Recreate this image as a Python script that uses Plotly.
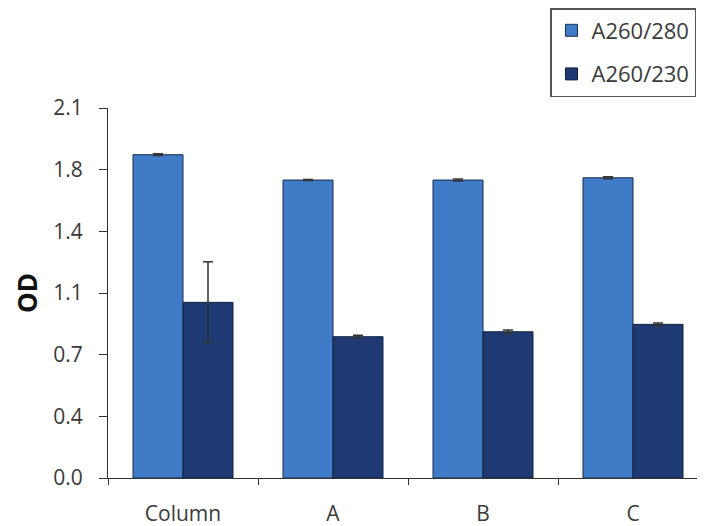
import plotly.graph_objects as go

categories = ["Column", "A", "B", "C"]
a260_280 = [1.835, 1.691, 1.691, 1.704]
a260_280_err = [0.005, 0.003, 0.006, 0.006]
a260_230 = [0.997, 0.802, 0.830, 0.872]
a260_230_err = [0.23, 0.008, 0.01, 0.008]
ytick_vals = [0.0, 0.35, 0.7, 1.05, 1.4, 1.75, 2.1]
ytick_text = ["0.0", "0.4", "0.7", "1.1", "1.4", "1.8", "2.1"]

font = "Open Sans"
# page body has an 8px margin, so the figure is shrunk by 8px and margins reduced
fig = go.Figure()
fig.add_trace(go.Bar(
    x=categories, y=a260_280, name="A260/280", legendgroup="g1",
    marker=dict(color="#3F7BC6", line=dict(color="#1c2c4c", width=1)),
    error_y=dict(type="data", array=a260_280_err, color="#333333", thickness=1.5, width=5),
))
fig.add_trace(go.Bar(
    x=categories, y=a260_230, name="A260/230", legendgroup="g2",
    marker=dict(color="#1F3A72", line=dict(color="#14233f", width=1)),
    error_y=dict(type="data", array=a260_230_err, color="#333333", thickness=1.5, width=5),
))

fig.update_layout(
    width=697, height=518,
    margin=dict(l=100, r=0, t=100, b=48, autoexpand=False),
    paper_bgcolor="white", plot_bgcolor="white",
    barmode="group", bargap=1/3, bargroupgap=0,
    font=dict(family=font, size=21, color="#3a3a3a"),
    showlegend=True,
    legend=dict(
        x=(550 - 108) / 597, y=(478 - 8) / 370, xanchor="left", yanchor="top",
        bordercolor="#555555", borderwidth=1.5, bgcolor="white",
        font=dict(family=font, size=22, color="#3a3a3a"),
        traceorder="grouped", tracegroupgap=12, itemwidth=30,
    ),
    xaxis=dict(
        range=[-0.5, 3.48], showline=True, linecolor="#333333", linewidth=1.2,
        ticks="outside", tickson="boundaries", ticklen=6, tickcolor="#333333",
        ticklabelstandoff=17,
        showgrid=False, tickfont=dict(size=21, color="#3a3a3a"), automargin=False,
    ),
    yaxis=dict(
        range=[0, 2.1], tickvals=ytick_vals, ticktext=ytick_text,
        showline=True, linecolor="#333333", linewidth=1.2,
        ticks="outside", ticklen=8, tickcolor="#333333", ticklabelstandoff=12,
        showgrid=False, zeroline=False, tickfont=dict(size=21, color="#3a3a3a"),
        title=dict(text="<b>OD</b>", font=dict(size=26, color="#111111"), standoff=8),
        automargin=False,
    ),
)

fig.write_html("out.html")
